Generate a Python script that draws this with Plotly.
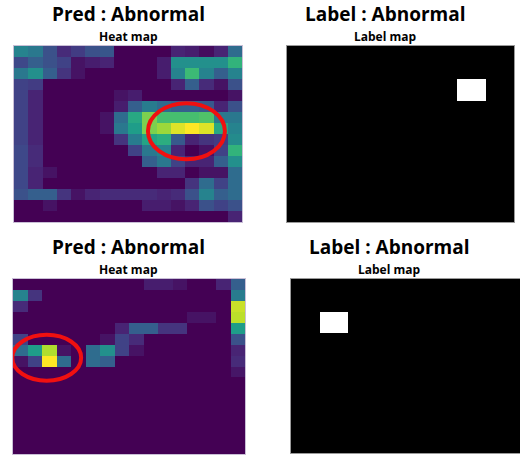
import plotly.graph_objects as go

# ---------------- data ----------------
heat_top = [
    [0.45,0.40,0.25,0.12,0.18,0.25,0.27,0,0,0,0,0.10,0.08,0.03,0.10,0.35],
    [0.22,0.30,0.25,0.20,0.05,0.08,0.10,0,0,0,0.08,0.50,0.50,0.50,0.50,0.65],
    [0.40,0.50,0.30,0.15,0.05,0,0,0,0,0,0.08,0.45,0.68,0.45,0.30,0.45],
    [0.20,0.18,0,0,0,0,0,0,0,0,0,0.10,0.30,0.12,0.05,0.25],
    [0.20,0.10,0,0,0,0,0,0.05,0.08,0,0,0,0,0,0,0.05],
    [0.20,0.10,0,0,0,0,0,0.08,0.30,0.42,0.35,0.30,0.30,0.28,0.10,0.25],
    [0.20,0.10,0,0,0,0,0.05,0.35,0.60,0.80,0.70,0.70,0.70,0.72,0.40,0.40],
    [0.20,0.10,0,0,0,0,0.05,0.40,0.55,0.80,0.85,0.95,1.00,0.95,0.60,0.45],
    [0.20,0.10,0,0,0,0,0,0.15,0.42,0.58,0.62,0.28,0.10,0.15,0.18,0.48],
    [0.22,0.12,0,0,0,0,0,0,0.20,0.40,0.45,0.10,0,0.05,0.20,0.65],
    [0.22,0.12,0,0,0,0,0,0,0,0.30,0.40,0.20,0.10,0.10,0.30,0.50],
    [0.22,0.10,0.05,0,0,0,0,0,0,0,0.10,0.10,0,0.05,0.05,0.35],
    [0.22,0.10,0,0,0,0,0,0,0,0,0,0,0.15,0.35,0.20,0.35],
    [0.25,0.30,0.30,0.15,0.05,0.10,0.12,0.12,0.12,0.12,0.10,0.12,0.25,0.45,0.30,0.35],
    [0,0,0.05,0,0,0,0,0,0,0.08,0.08,0.05,0.10,0.25,0.20,0.25],
    [0,0,0,0,0,0,0,0,0,0,0,0,0,0,0,0.10],
]

heat_bottom = [
    [0,0,0,0,0,0,0,0,0,0.08,0.08,0.05,0,0,0.10,0.30],
    [0.45,0.15,0,0,0,0,0,0,0,0,0,0,0,0,0,0.42],
    [0.12,0,0,0,0,0,0,0,0,0,0,0,0,0,0,0.92],
    [0,0,0,0,0,0,0,0,0,0,0,0,0.05,0.05,0,0.90],
    [0,0,0,0,0,0,0,0.10,0.30,0.30,0.15,0.15,0,0,0,0.55],
    [0.20,0,0,0,0,0,0.05,0.20,0.12,0,0,0,0,0,0,0.25],
    [0.35,0.55,0.88,0.05,0,0.35,0.50,0.20,0.05,0,0,0,0,0,0,0.10],
    [0.05,0.20,1.00,0.35,0,0.35,0.30,0,0,0,0,0,0,0,0,0.12],
    [0,0,0,0,0,0,0,0,0,0,0,0,0,0,0,0.06],
] + [[0]*16 for _ in range(7)]

# label maps: (row, col) of abnormal cells
label_top_cells = [(3,12),(3,13),(4,12),(4,13)]
label_bottom_cells = [(3,2),(3,3),(4,2),(4,3)]

def label_grid(cells):
    g = [[0]*16 for _ in range(16)]
    for r, c in cells:
        g[r][c] = 1
    return g

label_top = label_grid(label_top_cells)
label_bottom = label_grid(label_bottom_cells)

pred_titles = ["Pred : Abnormal", "Pred : Abnormal"]
label_titles = ["Label : Abnormal", "Label : Abnormal"]

# highlight ellipses in cell coordinates: (x0, x1, y0, y1)
circle_top = (8.9, 14.3, 4.7, 9.8)
circle_bottom = (-0.55, 4.2, 4.6, 8.8)

# ---------------- figure ----------------
W, H = 520, 456
def dx(a, b):
    return [a / W, min(b / W, 1.0)]
def dy(top, bottom):
    return [max(1 - bottom / H, 0.0), 1 - top / H]

fig = go.Figure()

panels = [
    ("x", "y", heat_top, "Viridis"),
    ("x2", "y2", label_top, [[0, "black"], [1, "white"]]),
    ("x3", "y3", heat_bottom, "Viridis"),
    ("x4", "y4", label_bottom, [[0, "black"], [1, "white"]]),
]
for xa, ya, z, cs in panels:
    fig.add_trace(go.Heatmap(z=z, colorscale=cs, zmin=0, zmax=1,
                             showscale=False, xaxis=xa, yaxis=ya,
                             hoverinfo="skip"))

domains = {
    1: (dx(14, 242), dy(46, 222), "#c9bfd6"),
    2: (dx(287, 514), dy(46, 222), "#9a9a9a"),
    3: (dx(13, 245), dy(279, 454), "#c9bfd6"),
    4: (dx(291, 520), dy(279, 453), "#9a9a9a"),
}
layout = dict(width=W, height=H, margin=dict(l=0, r=0, t=0, b=0),
              paper_bgcolor="white", plot_bgcolor="white", showlegend=False)
for i, (xd, yd, lc) in domains.items():
    s = "" if i == 1 else str(i)
    layout["xaxis" + s] = dict(domain=xd, range=[-0.5, 15.5], showticklabels=False,
                               showgrid=False, zeroline=False, ticks="",
                               showline=True, linecolor=lc, linewidth=1, mirror=True,
                               anchor="y" + s)
    layout["yaxis" + s] = dict(domain=yd, range=[15.5, -0.5], showticklabels=False,
                               showgrid=False, zeroline=False, ticks="",
                               showline=True, linecolor=lc, linewidth=1, mirror=True,
                               anchor="x" + s)
fig.update_layout(**layout)

font_main = "Open Sans"
ann = []
def title(text, sub, cx, ty, sy):
    ann.append(dict(text="<b>%s</b>" % text, x=cx / W, y=1 - ty / H, xref="paper", yref="paper",
                    showarrow=False, xanchor="center", yanchor="middle",
                    font=dict(family=font_main, size=19, color="black")))
    ann.append(dict(text="<b>%s</b>" % sub, x=cx / W, y=1 - sy / H, xref="paper", yref="paper",
                    showarrow=False, xanchor="center", yanchor="middle",
                    font=dict(family=font_main, size=12, color="black")))

title(pred_titles[0], "Heat map", 128, 14, 36)
title(label_titles[0], "Label map", 385, 14, 36)
title(pred_titles[1], "Heat map", 128, 247, 269)
title(label_titles[1], "Label map", 389, 247, 269)
fig.update_layout(annotations=ann)

for (x0, x1, y0, y1), xr, yr in [(circle_top, "x", "y"), (circle_bottom, "x3", "y3")]:
    fig.add_shape(type="circle", xref=xr, yref=yr, x0=x0, x1=x1, y0=y0, y1=y1,
                  line=dict(color="#f01010", width=4))

fig.write_html("out.html")
